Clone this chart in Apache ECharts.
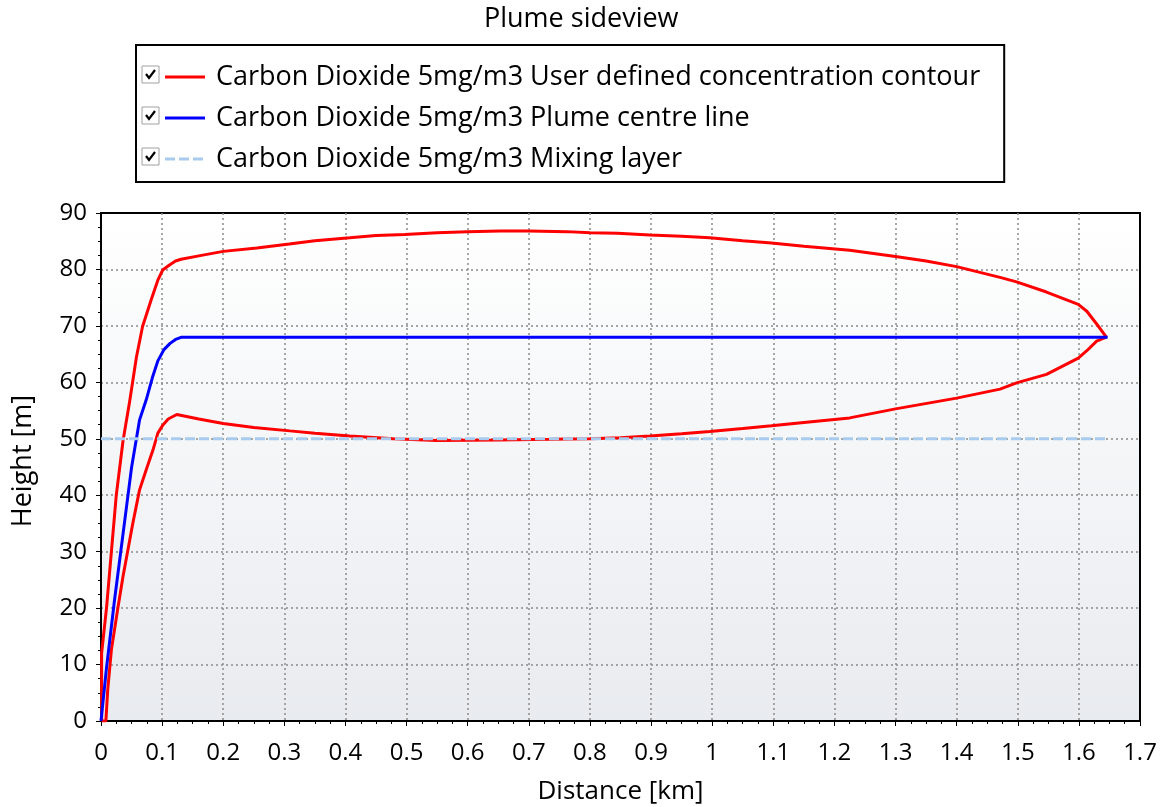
<!DOCTYPE html>
<html>
<head>
<meta charset="utf-8">
<script src="https://cdn.jsdelivr.net/npm/echarts@6/dist/echarts.min.js"></script>
<style>html,body{margin:0;padding:0;background:#fff;}#c{width:1171px;height:807px;}</style>
</head>
<body>
<div id="c"></div>
<script>
// ---- data (distance km, height m) ----
const contourUpper = [[0.001,0],[0.001,12],[0.009,20],[0.017,30],[0.025,40],[0.036,49.6],[0.047,56.7],[0.058,64.5],[0.068,69.9],[0.082,74.6],[0.093,78.1],[0.101,79.9],[0.112,80.8],[0.122,81.5],[0.131,81.8],[0.16,82.4],[0.2,83.2],[0.255,83.8],[0.308,84.5],[0.35,85.1],[0.407,85.6],[0.45,86],[0.497,86.2],[0.55,86.5],[0.6,86.7],[0.653,86.8],[0.7,86.8],[0.762,86.7],[0.8,86.5],[0.845,86.4],[0.898,86.1],[0.95,85.9],[0.996,85.6],[1.05,85.1],[1.097,84.7],[1.15,84.1],[1.225,83.4],[1.3,82.3],[1.35,81.5],[1.4,80.5],[1.471,78.6],[1.498,77.8],[1.547,76.0],[1.599,73.8],[1.613,72.6],[1.63,70.2],[1.645,68]];
const contourLower = [[1.645,68],[1.629,67.3],[1.613,65.6],[1.599,64.3],[1.547,61.4],[1.498,59.9],[1.471,58.8],[1.4,57.2],[1.3,55.3],[1.225,53.7],[1.15,52.9],[1.097,52.3],[1.05,51.8],[0.996,51.3],[0.95,50.9],[0.898,50.5],[0.85,50.2],[0.8,50.0],[0.736,49.9],[0.65,49.8],[0.549,49.7],[0.478,50],[0.407,50.5],[0.35,51],[0.309,51.4],[0.25,52],[0.2,52.7],[0.16,53.5],[0.124,54.3],[0.11,53.5],[0.101,52.4],[0.093,51],[0.085,48],[0.074,44.5],[0.063,40.9],[0.052,35],[0.044,30.3],[0.036,25.6],[0.028,20.3],[0.017,12.6],[0.011,5.5],[0.008,0],[0.001,0]];
const centreLine = [[0,0],[0.009,9.4],[0.022,21.3],[0.036,33.1],[0.050,44.9],[0.063,53.3],[0.074,56.9],[0.084,60.8],[0.093,63.8],[0.103,65.8],[0.113,66.9],[0.122,67.6],[0.132,68],[0.5,68],[1.0,68],[1.647,68]];
const mixingLayer = [[0,50],[1.648,50]];
const seriesNames = ['Carbon Dioxide 5mg/m3 User defined concentration contour','Carbon Dioxide 5mg/m3 Plume centre line','Carbon Dioxide 5mg/m3 Mixing layer'];
const xTicks = {min:0, max:1.7, interval:0.1};
const yTicks = {min:0, max:90, interval:10};

const FONT = 'Open Sans';
const chart = echarts.init(document.getElementById('c'), null, {renderer:'canvas'});
const checkbox = (cy) => [
  {type:'rect', shape:{x:142, y:cy-9, width:17, height:17}, style:{fill:'#fff', stroke:'#a0a0a0', lineWidth:1}, z:100},
  {type:'polyline', shape:{points:[[146,cy-1],[149,cy+3],[155,cy-5]]}, style:{stroke:'#000', lineWidth:2.2, fill:null}, z:101}
];
const solidIcon = 'path://M0,0H40V3H0Z';
const dashIcon = 'path://M0,0H10V3H0Z M14,0H24V3H14Z M28,0H38V3H28Z M40,0H40.01V3H40Z';
const splitStyle = {show:true, showMinLine:false, showMaxLine:false, lineStyle:{color:'#8a8a8a', type:[2,3], width:1.5}};
chart.setOption({
  animation:false,
  backgroundColor:'#fff',
  textStyle:{fontFamily:FONT},
  title:{text:'Plume sideview', left:479, top:1, textStyle:{fontFamily:FONT, fontSize:27, fontWeight:'normal', color:'#000'}},
  legend:{
    orient:'vertical', left:136, top:45,
    padding:[17,24,8,29],
    backgroundColor:'#fff', borderColor:'#000', borderWidth:2,
    itemWidth:40, itemHeight:3, itemGap:11,
    selectedMode:false,
    textStyle:{fontFamily:FONT, fontSize:27, color:'#000', lineHeight:30, padding:[0,0,0,6]},
    data:[{name:seriesNames[0], icon:solidIcon},{name:seriesNames[1], icon:solidIcon},{name:seriesNames[2], icon:dashIcon}]
  },
  graphic:[].concat(checkbox(75), checkbox(116), checkbox(157)),
  grid:{left:101, right:31, top:213, bottom:86, show:true, containLabel:false, outerBoundsMode:'none',
    backgroundColor:new echarts.graphic.LinearGradient(0,0,0,1,[{offset:0,color:'#ffffff'},{offset:1,color:'#e8ebef'}]),
    borderColor:'#000', borderWidth:2},
  xAxis:{type:'value', min:xTicks.min, max:xTicks.max, interval:xTicks.interval,
    name:'Distance [km]', nameLocation:'middle', nameGap:58,
    nameTextStyle:{fontFamily:FONT, fontSize:26, color:'#000'},
    axisLine:{show:true, onZero:false, lineStyle:{color:'#000', width:2}},
    axisTick:{show:true, length:5, lineStyle:{color:'#000', width:1}},
    minorTick:{show:true, splitNumber:4, length:3, lineStyle:{color:'#000'}},
    axisLabel:{fontFamily:FONT, fontSize:24, color:'#000', margin:20, formatter:v=>String(+v.toFixed(1))},
    splitLine:splitStyle},
  yAxis:{type:'value', min:yTicks.min, max:yTicks.max, interval:yTicks.interval,
    name:'Height [m]', nameLocation:'middle', nameGap:64,
    nameTextStyle:{fontFamily:FONT, fontSize:27, color:'#000', padding:[0,0,0,12]},
    axisLine:{show:true, onZero:false, lineStyle:{color:'#000', width:2}},
    axisTick:{show:true, length:5, lineStyle:{color:'#000', width:1}},
    minorTick:{show:true, splitNumber:4, length:3, lineStyle:{color:'#000'}},
    axisLabel:{fontFamily:FONT, fontSize:24, color:'#000', margin:14},
    splitLine:splitStyle},
  series:[
    {name:seriesNames[0], type:'line', data:contourUpper.concat(contourLower), showSymbol:false, symbol:'none',
      lineStyle:{color:'#ff0000', width:3}, itemStyle:{color:'#ff0000'}},
    {name:seriesNames[1], type:'line', data:centreLine, showSymbol:false, symbol:'none',
      lineStyle:{color:'#0000ff', width:3}, itemStyle:{color:'#0000ff'}},
    {name:seriesNames[2], type:'line', data:mixingLayer, showSymbol:false, symbol:'none',
      lineStyle:{color:'#a9cbee', width:3, type:[10,4]}, itemStyle:{color:'#a9cbee'}}
  ]
});
</script>
</body>
</html>
